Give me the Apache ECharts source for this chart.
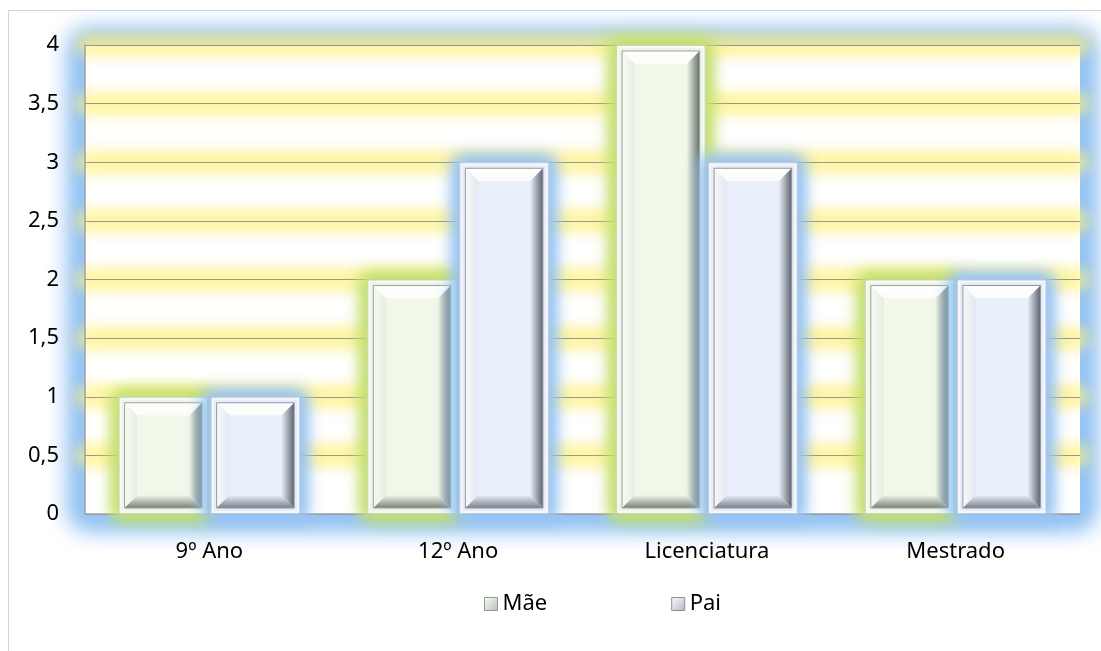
<!DOCTYPE html>
<html>
<head>
<meta charset="utf-8">
<script src="https://cdn.jsdelivr.net/npm/echarts@6/dist/echarts.min.js"></script>
<style>
html,body{margin:0;padding:0;background:#fff;}
#chart{width:1101px;height:651px;}
</style>
</head>
<body>
<div id="chart"></div>
<script>
const categories = ['9º Ano', '12º Ano', 'Licenciatura', 'Mestrado'];
const maeValues = [1, 2, 4, 2];
const paiValues = [1, 3, 3, 2];
const seriesNames = ['Mãe', 'Pai'];
const yMin = 0, yMax = 4, yStep = 0.5;
const glowLevels = [0.5, 1, 1.5, 2, 2.5, 3, 3.5, 4];

const FONT = 'Noto Sans';
const FAR = 4000;

const palMae = {
  rim: '#f7fbf2', frameFill: '#eef5e6', face: '#f1f7e9', top: '#ffffff', left: '#e6eede',
  dark: '#63706d', bottom: '#78827a', edge: '#c9d3c2', frame: '#9aa596',
  glow: 'rgba(196,224,110,1)'
};
const palPai = {
  rim: '#f6f8fd', frameFill: '#e6ecf8', face: '#e9f0fc', top: '#ffffff', left: '#e2e7f2',
  dark: '#5f6370', bottom: '#7b7f8b', edge: '#c4cad8', frame: '#9196a4',
  glow: 'rgba(150,196,244,1)'
};

function lg(x0, y0, x1, y1, c0, c1) {
  return new echarts.graphic.LinearGradient(x0, y0, x1, y1, [{offset: 0, color: c0}, {offset: 1, color: c1}]);
}

// a soft glow: only the shadow of a far-away shape lands on the target rect
function softGlow(x, y, w, h, grow, blur, color) {
  return {type: 'rect', silent: true,
    shape: {x: x - grow - FAR, y: y - grow, width: w + 2 * grow, height: h + 2 * grow, r: grow},
    style: {fill: color, shadowBlur: blur, shadowColor: color, shadowOffsetX: FAR, shadowOffsetY: 0}};
}

function makeBar(side, pal) {
  return function (params, api) {
    const ci = api.value(0), v = api.value(1);
    const p0 = api.coord([ci, 0]);
    const p1 = api.coord([ci, v]);
    const cw = api.size([1, 0])[0];
    const bw = cw * 0.36, gap = cw * 0.01;
    const x0 = side < 0 ? p0[0] - gap / 2 - bw : p0[0] + gap / 2;
    const y0 = p1[1], w = bw, h = p0[1] - p1[1];
    const r = 6, b = 13;
    const ix = x0 + r, iy = y0 + r, iw = w - 2 * r, ih = h - 2 * r;
    const fx = ix + b, fy = iy + b, fw = iw - 2 * b, fh = ih - 2 * b;
    const ox = ix + iw, oy = iy + ih;
    return {
      type: 'group',
      children: [
        softGlow(x0, y0, w, h, 5, 16, pal.glow),
        softGlow(x0, y0, w, h, 5, 16, pal.glow),
        {type: 'rect', shape: {x: x0 + 0.5, y: y0 + 0.5, width: w - 1, height: h - 1},
          style: {fill: pal.rim, stroke: pal.edge, lineWidth: 1}},
        {type: 'rect', shape: {x: x0 + 3, y: y0 + 3, width: w - 6, height: h - 6},
          style: {fill: pal.frameFill}},
        {type: 'polygon', shape: {points: [[ix, iy], [ox, iy], [ox - b, iy + b], [ix + b, iy + b]]},
          style: {fill: lg(0, 0, 0, 1, pal.top, '#fbfdf9')}},
        {type: 'polygon', shape: {points: [[ix, iy], [ix + b, iy + b], [ix + b, oy - b], [ix, oy]]},
          style: {fill: lg(0, 0, 1, 0, '#f8faf6', pal.left)}},
        {type: 'polygon', shape: {points: [[ox, iy], [ox, oy], [ox - b, oy - b], [ox - b, iy + b]]},
          style: {fill: lg(0, 0, 1, 0, pal.face, pal.dark)}},
        {type: 'polygon', shape: {points: [[ix, oy], [ox, oy], [ox - b, oy - b], [ix + b, oy - b]]},
          style: {fill: lg(0, 0, 0, 1, pal.face, pal.bottom)}},
        {type: 'rect', shape: {x: fx, y: fy, width: Math.max(fw, 0), height: Math.max(fh, 0)},
          style: {fill: pal.face}},
        {type: 'rect', shape: {x: ix, y: iy, width: iw, height: ih},
          style: {fill: null, stroke: pal.frame, lineWidth: 1}}
      ]
    };
  };
}

function plotGlow(params, api) {
  const cs = params.coordSys;
  const blue = 'rgba(150,196,244,1)';
  return {type: 'group', children: [
    softGlow(cs.x, cs.y, cs.width, cs.height, 12, 26, blue),
    softGlow(cs.x, cs.y, cs.width, cs.height, 12, 26, blue),
    softGlow(cs.x, cs.y, cs.width, cs.height, 6, 14, blue),
    {type: 'rect', shape: {x: cs.x, y: cs.y, width: cs.width, height: cs.height},
      style: {fill: '#ffffff'}}
  ]};
}

function glowLines(params, api) {
  const v = api.value(1);
  const cs = params.coordSys;
  const y = api.coord([0, v])[1];
  const col = 'rgba(255,241,125,0.85)';
  return {type: 'group', children: [
    softGlow(cs.x, y, cs.width, 0, 7, 16, col),
    softGlow(cs.x, y, cs.width, 0, 7, 16, col)
  ]};
}

const chart = echarts.init(document.getElementById('chart'));
chart.setOption({
  backgroundColor: '#ffffff',
  animation: false,
  textStyle: {fontFamily: FONT},
  graphic: [{
    type: 'rect', z: -10, silent: true,
    shape: {x: 8.5, y: 10.5, width: 1300, height: 1000},
    style: {fill: null, stroke: '#d4d4d4', lineWidth: 1}
  }],
  grid: {
    left: 85, right: 21, top: 45, bottom: 137,
    show: false
  },
  legend: {
    left: 484, top: 593, padding: 0,
    itemWidth: 13, itemHeight: 13, itemGap: 124,
    icon: 'rect',
    textStyle: {fontFamily: FONT, fontSize: 22, color: '#000'},
    data: [
      {name: seriesNames[0], itemStyle: {color: lg(0, 0, 1, 1, '#ffffff', '#b5bfae'), borderColor: '#8f998c', borderWidth: 1}},
      {name: seriesNames[1], itemStyle: {color: lg(0, 0, 1, 1, '#ffffff', '#b2b7c4'), borderColor: '#8c909c', borderWidth: 1}}
    ]
  },
  xAxis: {
    type: 'category', data: categories,
    axisLine: {show: true, lineStyle: {color: '#a0a0a0', width: 1.5}},
    axisTick: {show: false},
    axisLabel: {fontFamily: FONT, fontSize: 22, color: '#000', margin: 27},
    z: 1.5
  },
  yAxis: {
    type: 'value', min: yMin, max: yMax, interval: yStep,
    axisLine: {show: true, lineStyle: {color: '#a0a0a0', width: 1.5}},
    axisTick: {show: false},
    axisLabel: {fontFamily: FONT, fontSize: 22, color: '#000', margin: 26,
      formatter: function (v) { return String(v).replace('.', ','); }},
    splitLine: {show: true, lineStyle: {color: '#8d97b0', width: 1}},
    z: 1.5
  },
  series: [
    {
      type: 'custom', name: '_plot', z: 0.5, silent: true,
      renderItem: plotGlow, clip: false,
      data: [[0, 0]],
      encode: {x: 0, y: 1}
    },
    {
      type: 'custom', name: '_glow', z: 1, silent: true,
      renderItem: glowLines, clip: false,
      data: glowLevels.map(function (v) { return [0, v]; }),
      encode: {x: 0, y: 1}
    },
    {
      type: 'custom', name: seriesNames[0], z: 3,
      itemStyle: {color: '#dfe8d6'},
      renderItem: makeBar(-1, palMae),
      data: maeValues.map(function (v, i) { return [i, v]; }),
      encode: {x: 0, y: 1}
    },
    {
      type: 'custom', name: seriesNames[1], z: 3,
      itemStyle: {color: '#dfe4f0'},
      renderItem: makeBar(1, palPai),
      data: paiValues.map(function (v, i) { return [i, v]; }),
      encode: {x: 0, y: 1}
    }
  ]
});
</script>
</body>
</html>
